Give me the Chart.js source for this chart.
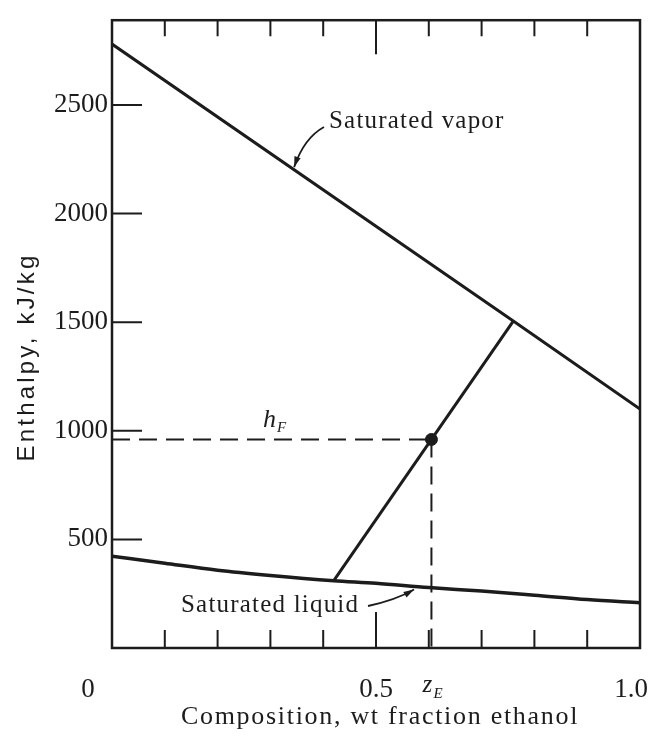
<!DOCTYPE html>
<html>
<head>
<meta charset="utf-8">
<script src="https://cdn.jsdelivr.net/npm/chart.js@4.4.0/dist/chart.umd.min.js"></script>
<style>
  html, body { margin: 0; padding: 0; background: #fff; }
  #wrap { width: 654px; height: 738px; }
</style>
</head>
<body>
<div id="wrap"><canvas id="chart" width="654" height="738"></canvas></div>
<script>
// ===== Datos =====
const vaporX  = [0, 0.76, 1.0];
const vaporH  = [2780, 1505, 1100];
const liquidX = [0, 0.1, 0.2, 0.3, 0.42, 0.5, 0.6, 0.7, 0.8, 0.9, 1.0];
const liquidH = [423, 390, 358, 334, 310, 298, 278, 262, 243, 223, 208];
const tieX    = [0.42, 0.76];
const tieH    = [310, 1505];
const feedZ   = 0.605;
const feedH   = 960;

const xTickVals = [0.1, 0.2, 0.3, 0.4, 0.5, 0.6, 0.7, 0.8, 0.9];
const yTickVals = [500, 1000, 1500, 2000, 2500];
const xLabelVals = [0, 0.5, 1.0];
const xLabelText = ['0', '0.5', '1.0'];

const INK = '#1c1c1c';
const pts = (xs, ys) => xs.map((x, i) => ({ x, y: ys[i] }));

// ===== Marco, marcas interiores y textos =====
const decor = {
    id: 'decor',
    afterDatasetsDraw(chart) {
        const { ctx, chartArea: a, scales: { x, y } } = chart;
        ctx.save();
        ctx.strokeStyle = INK;
        ctx.lineWidth = 2.5;
        ctx.strokeRect(a.left, a.top, a.right - a.left, a.bottom - a.top);

        // marcas hacia adentro
        ctx.lineWidth = 2;
        ctx.beginPath();
        xTickVals.forEach(v => {
            const px = x.getPixelForValue(v);
            const big = v === 0.5;
            ctx.moveTo(px, a.bottom); ctx.lineTo(px, a.bottom - (big ? 36 : 18));
            ctx.moveTo(px, a.top);    ctx.lineTo(px, a.top + (big ? 34 : 16));
        });
        yTickVals.forEach(v => {
            const py = y.getPixelForValue(v);
            ctx.moveTo(a.left, py); ctx.lineTo(a.left + 30, py);
        });
        ctx.stroke();

        ctx.fillStyle = INK;
        ctx.textBaseline = 'alphabetic';

        // etiquetas del eje x
        ctx.font = '27px "Liberation Serif"';
        ctx.textAlign = 'center';
        const xOff = [-24, 0, -9];
        xLabelVals.forEach((v, i) => {
            ctx.fillText(xLabelText[i], x.getPixelForValue(v) + xOff[i], 697);
        });
        // z_E
        const zx = x.getPixelForValue(feedZ);
        ctx.textAlign = 'left';
        ctx.font = 'italic 25px "Liberation Serif"';
        ctx.fillText('z', zx - 9, 692);
        ctx.font = 'italic 15px "Liberation Serif"';
        ctx.fillText('E', zx + 2, 698);

        // h_F
        ctx.font = 'italic 26px "Liberation Serif"';
        ctx.fillText('h', 263, 427);
        ctx.font = 'italic 15px "Liberation Serif"';
        ctx.fillText('F', 277, 432);

        // rótulos de curvas
        ctx.font = '25px "Liberation Serif"';
        ctx.letterSpacing = '1.2px';
        ctx.fillText('Saturated vapor', 329, 128);
        ctx.fillText('Saturated liquid', 181, 612);

        // títulos
        ctx.font = '26px "Liberation Serif"';
        ctx.letterSpacing = '1.7px';
        ctx.textAlign = 'center';
        ctx.fillText('Composition, wt fraction ethanol', 380, 724);

        ctx.save();
        ctx.translate(34, 357);
        ctx.rotate(-Math.PI / 2);
        ctx.font = '24px "Liberation Sans"';
        ctx.letterSpacing = '3.2px';
        ctx.fillText('Enthalpy, kJ/kg', 0, 0);
        ctx.restore();
        ctx.letterSpacing = '0px';

        // flechas
        const arrow = (x0, y0, cx, cy, x1, y1) => {
            ctx.lineWidth = 1.8;
            ctx.beginPath();
            ctx.moveTo(x0, y0);
            ctx.quadraticCurveTo(cx, cy, x1, y1);
            ctx.stroke();
            const ang = Math.atan2(y1 - cy, x1 - cx);
            ctx.beginPath();
            ctx.moveTo(x1, y1);
            ctx.lineTo(x1 - 11 * Math.cos(ang - 0.3), y1 - 11 * Math.sin(ang - 0.3));
            ctx.lineTo(x1 - 11 * Math.cos(ang + 0.3), y1 - 11 * Math.sin(ang + 0.3));
            ctx.closePath();
            ctx.fill();
        };
        const vx = x.getPixelForValue(0.345), vy = y.getPixelForValue(2200);
        arrow(324, 127, 304, 138, vx, vy - 3);
        const lx = x.getPixelForValue(0.572), ly = y.getPixelForValue(283);
        arrow(368, 606, 396, 600, lx, ly + 3);

        ctx.restore();
    }
};

new Chart(document.getElementById('chart'), {
    type: 'scatter',
    data: {
        datasets: [
            { data: pts(vaporX, vaporH), showLine: true, borderColor: INK, borderWidth: 3, pointRadius: 0 },
            { data: pts(liquidX, liquidH), showLine: true, borderColor: INK, borderWidth: 3.5, pointRadius: 0,
              cubicInterpolationMode: 'monotone' },
            { data: pts(tieX, tieH), showLine: true, borderColor: INK, borderWidth: 3, pointRadius: 0 },
            { data: [{ x: 0, y: feedH }, { x: feedZ, y: feedH }], showLine: true, borderColor: INK,
              borderWidth: 2, borderDash: [18, 9], pointRadius: 0 },
            { data: [{ x: feedZ, y: feedH }, { x: feedZ, y: 0 }], showLine: true, borderColor: INK,
              borderWidth: 2, borderDash: [18, 9], pointRadius: 0 },
            { data: [{ x: feedZ, y: feedH }], pointRadius: 6, pointBackgroundColor: INK, pointBorderColor: INK }
        ]
    },
    options: {
        responsive: false,
        animation: false,
        events: [],
        layout: { padding: { top: 12, right: 14, bottom: 90, left: 0 } },
        plugins: { legend: { display: false }, tooltip: { enabled: false } },
        scales: {
            x: {
                type: 'linear', min: 0, max: 1,
                grid: { display: false, drawTicks: false },
                border: { display: false },
                ticks: { display: false },
                afterFit: s => { s.height = 0; }
            },
            y: {
                type: 'linear', min: 0, max: 2890,
                grid: { display: false, drawTicks: false },
                border: { display: false },
                afterBuildTicks: s => { s.ticks = yTickVals.map(v => ({ value: v })); },
                ticks: {
                    padding: 4,
                    color: INK,
                    font: { family: 'Liberation Serif', size: 27 },
                    callback: v => String(v)
                },
                afterFit: s => { s.width = 112; }
            }
        }
    },
    plugins: [decor]
});
</script>
</body>
</html>
